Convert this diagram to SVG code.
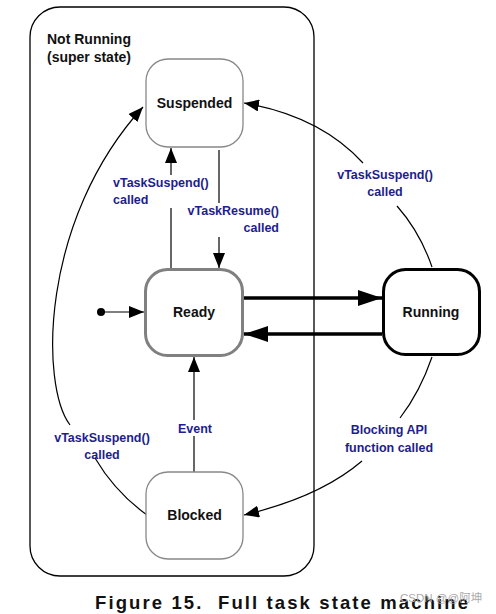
<svg xmlns="http://www.w3.org/2000/svg" width="496" height="614" viewBox="0 0 496 614">
<style>
.lbl{font-family:"Liberation Sans",Arial,sans-serif;font-weight:bold;font-size:12.5px;fill:#1e1e8c}
.st{font-family:"Liberation Sans",Arial,sans-serif;font-weight:bold;font-size:14px;fill:#111}
.c{fill:none;stroke:#000;stroke-width:1.2}
.thick{fill:none;stroke:#000;stroke-width:3.5}
</style>
<defs>
<marker id="a" markerUnits="userSpaceOnUse" markerWidth="16" markerHeight="12" refX="15" refY="6" orient="auto"><path d="M0,0 L15,6 L0,12 Z" fill="#000"/></marker>
<marker id="b" markerUnits="userSpaceOnUse" markerWidth="25" markerHeight="16" refX="24" refY="8" orient="auto"><path d="M0,0 L24,8 L0,16 Z" fill="#000"/></marker>
</defs>
<rect width="496" height="614" fill="#fff"/>
<g id="superstate">
<rect x="30" y="7" width="284" height="569" rx="30" fill="none" stroke="#000" stroke-width="1.3"/>
<text class="st" x="47" y="44">Not Running</text>
<text class="st" x="47" y="62">(super state)</text>
</g>
<g id="connectors">
<circle cx="101" cy="312" r="4" fill="#000"/>
<path class="c" d="M101,312 L144,312" marker-end="url(#a)"/>
<path class="c" d="M171,268 L171,208"/>
<path class="c" d="M171,175 L171,148" marker-end="url(#a)"/>
<path class="c" d="M219,150 L219,203"/>
<path class="c" d="M219,237 L219,268" marker-end="url(#a)"/>
<path class="c" d="M194,472 L194,436"/>
<path class="c" d="M194,420 L194,357" marker-end="url(#a)"/>
<path class="thick" d="M244,298 L382,298" marker-end="url(#b)"/>
<path class="thick" d="M382,334 L244,334" marker-end="url(#b)"/>
<path class="c" d="M432,267 Q420,232 397,206"/>
<path class="c" d="M363,163 Q320,116 244,103" marker-end="url(#a)"/>
<path class="c" d="M432,357 Q420,392 400,418"/>
<path class="c" d="M362,461 Q320,497 244,515" marker-end="url(#a)"/>
<path class="c" d="M147,515 Q115,492 95,458"/>
<path class="c" d="M70,425 C40,385 40,220 143,107" marker-end="url(#a)"/>
<text class="lbl" x="113" y="187">vTaskSuspend()</text>
<text class="lbl" x="113" y="204">called</text>
<text class="lbl" x="279" y="215" text-anchor="end">vTaskResume()</text>
<text class="lbl" x="279" y="232" text-anchor="end">called</text>
<text class="lbl" x="385" y="179" text-anchor="middle">vTaskSuspend()</text>
<text class="lbl" x="385" y="196" text-anchor="middle">called</text>
<text class="lbl" x="389" y="434" text-anchor="middle">Blocking API</text>
<text class="lbl" x="389" y="452" text-anchor="middle">function called</text>
<text class="lbl" x="102" y="442" text-anchor="middle">vTaskSuspend()</text>
<text class="lbl" x="102" y="459" text-anchor="middle">called</text>
<text class="lbl" x="195" y="433" text-anchor="middle">Event</text>
</g>
<g id="suspended">
<rect x="146" y="59" width="97" height="88" rx="22" fill="#fff" stroke="#888" stroke-width="1.3"/>
<text class="st" x="194.5" y="108" text-anchor="middle">Suspended</text>
</g>
<g id="ready">
<rect x="145.5" y="269.5" width="97" height="86" rx="22" fill="#fff" stroke="#808080" stroke-width="3"/>
<text class="st" x="194" y="317" text-anchor="middle">Ready</text>
</g>
<g id="running">
<rect x="383.5" y="269.5" width="96" height="85" rx="22" fill="#fff" stroke="#000" stroke-width="3"/>
<text class="st" x="431" y="317" text-anchor="middle">Running</text>
</g>
<g id="blocked">
<rect x="146" y="472" width="97" height="87" rx="22" fill="#fff" stroke="#888" stroke-width="1.3"/>
<text class="st" x="194.5" y="520" text-anchor="middle">Blocked</text>
</g>
<text x="95" y="609" font-family="'Liberation Sans',Arial,sans-serif" font-weight="bold" font-size="18.5" fill="#111" textLength="373" lengthAdjust="spacing">Figure 15.&#160; Full task state machine</text>
<text x="400" y="602" font-family="'Liberation Sans','Noto Sans CJK SC',sans-serif" font-size="11.5" fill="#aaa">CSDN @@阿坤</text>
</svg>
